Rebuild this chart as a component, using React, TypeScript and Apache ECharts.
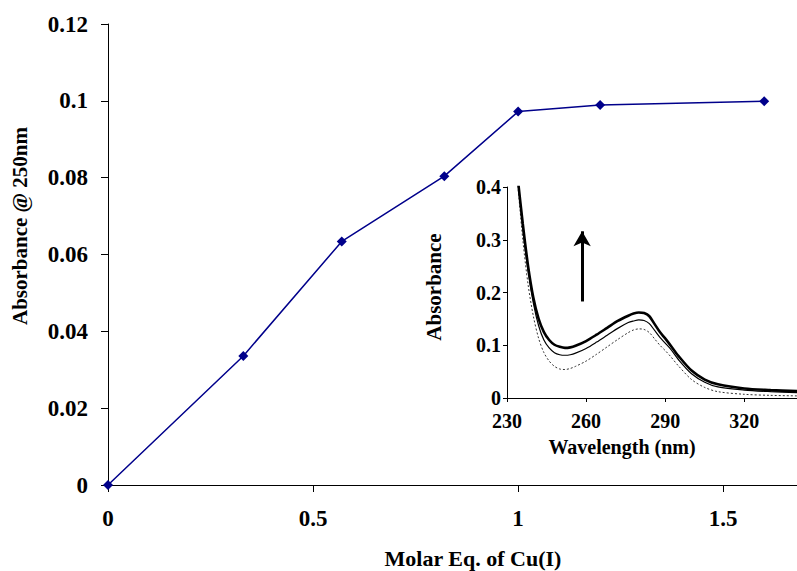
import React, { useEffect, useRef } from "react";
import * as echarts from "echarts";

// Main titration data
const molarEq = [0, 0.33, 0.57, 0.82, 1.0, 1.2, 1.6];
const abs250 = [0, 0.0336, 0.0634, 0.0804, 0.0972, 0.0989, 0.0999];

// Inset spectra
const wavelengths = [234, 236, 238, 240, 242, 244, 246, 248, 250, 252, 254, 256, 260, 264, 268, 272, 276, 278, 280, 282, 284, 286, 288, 290, 292, 295, 300, 305, 310, 320, 330, 340];
const specHigh = [0.42, 0.33, 0.25, 0.19, 0.15, 0.125, 0.11, 0.101, 0.097, 0.095, 0.096, 0.099, 0.108, 0.12, 0.133, 0.146, 0.156, 0.16, 0.162, 0.161, 0.155, 0.14, 0.125, 0.113, 0.1, 0.08, 0.052, 0.035, 0.026, 0.018, 0.015, 0.013];
const specMid = [0.42, 0.32, 0.24, 0.18, 0.137, 0.11, 0.095, 0.086, 0.082, 0.081, 0.082, 0.085, 0.094, 0.106, 0.119, 0.132, 0.143, 0.146, 0.148, 0.147, 0.141, 0.128, 0.115, 0.104, 0.093, 0.073, 0.046, 0.03, 0.021, 0.015, 0.012, 0.01];
const specLow = [0.41, 0.3, 0.215, 0.155, 0.113, 0.086, 0.07, 0.06, 0.055, 0.054, 0.056, 0.06, 0.07, 0.083, 0.097, 0.111, 0.124, 0.129, 0.131, 0.13, 0.124, 0.112, 0.1, 0.09, 0.079, 0.061, 0.035, 0.02, 0.012, 0.007, 0.005, 0.004];

// Arrow (wavelength, absorbance from -> to)
const arrowX = 258.5;
const arrowFrom = 0.183;
const arrowTo = 0.316;

const FONT = '"Liberation Serif", "Times New Roman", serif';

export default function App() {
  const ref = useRef<HTMLDivElement>(null);
  useEffect(() => {
    document.body.style.margin = "0";
    const chart = echarts.init(ref.current!, null, { renderer: "svg" });
    const pair = (xs: number[], ys: number[]) => xs.map((x, i) => [x, ys[i]]);
    const axisLine = { show: true, lineStyle: { color: "#000", width: 1 } };
    chart.setOption({
      animation: false,
      backgroundColor: "#fff",
      grid: [
        { left: 108, top: 24, right: 0, bottom: 86 },
        { left: 507, top: 187, right: 0, bottom: 173 },
      ],
      xAxis: [
        {
          gridIndex: 0,
          type: "value",
          min: 0,
          max: 1.68,
          interval: 0.5,
          splitLine: { show: false },
          axisLine,
          axisTick: { show: true, length: 7, lineStyle: { color: "#000" } },
          axisLabel: {
            margin: 22,
            fontFamily: FONT,
            fontWeight: "bold",
            fontSize: 23,
            color: "#000",
            showMaxLabel: false,
            formatter: (v: number) => (Math.abs(v / 0.5 - Math.round(v / 0.5)) < 1e-6 ? String(v) : ""),
          },
        },
        {
          gridIndex: 1,
          type: "value",
          min: 230,
          max: 340,
          interval: 30,
          splitLine: { show: false },
          axisLine,
          axisTick: { show: true, length: 4, lineStyle: { color: "#000" } },
          axisLabel: {
            margin: 13,
            fontFamily: FONT,
            fontWeight: "bold",
            fontSize: 20,
            color: "#000",
            showMaxLabel: false,
            formatter: (v: number) => ((v - 230) % 30 === 0 ? String(v) : ""),
          },
        },
      ],
      yAxis: [
        {
          gridIndex: 0,
          type: "value",
          min: 0,
          max: 0.12,
          interval: 0.02,
          splitLine: { show: false },
          axisLine,
          axisTick: { show: true, length: 7, lineStyle: { color: "#000" } },
          axisLabel: {
            margin: 20,
            fontFamily: FONT,
            fontWeight: "bold",
            fontSize: 23,
            color: "#000",
          },
        },
        {
          gridIndex: 1,
          type: "value",
          min: 0,
          max: 0.4,
          interval: 0.1,
          splitLine: { show: false },
          axisLine,
          axisTick: { show: true, length: 4, lineStyle: { color: "#000" } },
          axisLabel: {
            margin: 6,
            fontFamily: FONT,
            fontWeight: "bold",
            fontSize: 20,
            color: "#000",
          },
        },
      ],
      series: [
        {
          type: "line",
          xAxisIndex: 0,
          yAxisIndex: 0,
          data: pair(molarEq, abs250),
          symbol: "diamond",
          symbolSize: 10,
          lineStyle: { color: "#00008B", width: 1.5 },
          itemStyle: { color: "#00008B" },
        },
        {
          type: "line",
          xAxisIndex: 1,
          yAxisIndex: 1,
          data: pair(wavelengths, specLow),
          smooth: 0.3,
          symbol: "none",
          lineStyle: { color: "#333", width: 1, type: [2, 2] },
        },
        {
          type: "line",
          xAxisIndex: 1,
          yAxisIndex: 1,
          data: pair(wavelengths, specMid),
          smooth: 0.3,
          symbol: "none",
          lineStyle: { color: "#000", width: 1.2 },
        },
        {
          type: "line",
          xAxisIndex: 1,
          yAxisIndex: 1,
          data: pair(wavelengths, specHigh),
          smooth: 0.3,
          symbol: "none",
          lineStyle: { color: "#000", width: 2.6 },
          markLine: {
            silent: true,
            symbol: ["none", "arrow"],
            symbolSize: [13, 15],
            label: { show: false },
            lineStyle: { color: "#000", width: 3, type: "solid" },
            data: [[{ coord: [arrowX, arrowFrom] }, { coord: [arrowX, arrowTo] }]],
          },
        },
      ],
      graphic: [
        {
          type: "text",
          x: 473,
          y: 558,
          style: { text: "Molar Eq. of Cu(I)", font: `bold 22px ${FONT}`, fill: "#000", align: "center", verticalAlign: "middle" },
        },
        {
          type: "text",
          x: 20,
          y: 226,
          rotation: Math.PI / 2,
          style: { text: "Absorbance @ 250nm", font: `bold 21px ${FONT}`, fill: "#000", align: "center", verticalAlign: "middle" },
        },
        {
          type: "text",
          x: 622,
          y: 447,
          style: { text: "Wavelength (nm)", font: `bold 20px ${FONT}`, fill: "#000", align: "center", verticalAlign: "middle" },
        },
        {
          type: "text",
          x: 434,
          y: 287,
          rotation: Math.PI / 2,
          style: { text: "Absorbance", font: `bold 21px ${FONT}`, fill: "#000", align: "center", verticalAlign: "middle" },
        },
      ],
    });
    return () => chart.dispose();
  }, []);
  return <div ref={ref} style={{ width: 797, height: 571 }} />;
}
